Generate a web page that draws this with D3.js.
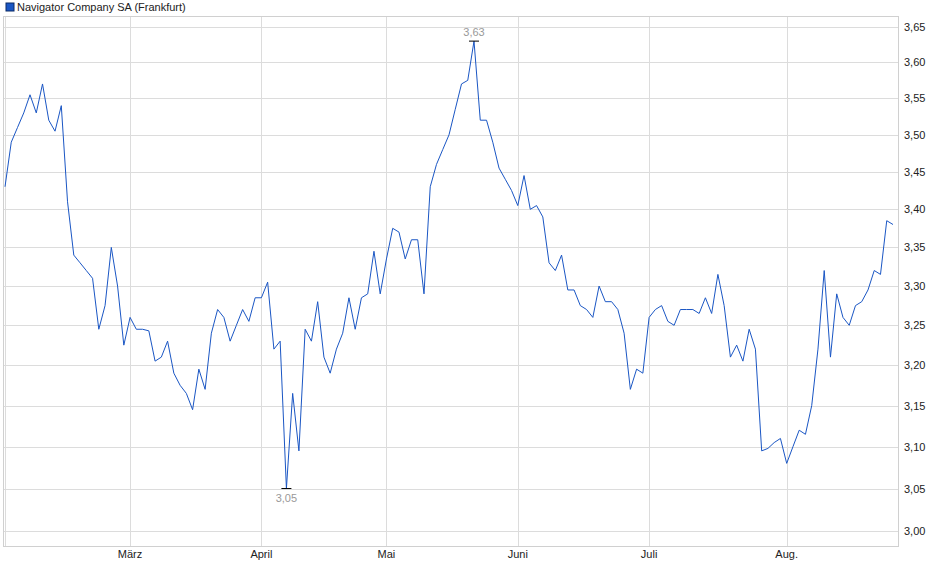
<!DOCTYPE html>
<html><head><meta charset="utf-8">
<script src="https://cdn.jsdelivr.net/npm/d3@7/dist/d3.min.js"></script>
<style>body{margin:0;background:#fff}text{font-family:"Liberation Sans",Arial,sans-serif}</style>
</head><body><svg id="c" width="940" height="579"></svg>
<script>
var prices = [
 3.43,3.49,3.51,3.53,3.555,3.53,3.57,3.52,3.505,3.54,3.41,3.34,3.33,3.32,3.31,3.245,3.275,3.35,3.30,3.225,3.26,
 3.245,3.245,3.243,3.205,3.21,3.23,3.19,3.175,3.165,3.145,3.195,3.17,3.24,3.27,3.26,3.23,3.25,3.27,3.255,3.285,3.285,3.305,
 3.22,3.23,3.05,3.165,3.095,3.245,3.23,3.28,3.21,3.19,3.22,3.24,3.285,3.245,3.285,3.29,3.345,3.29,3.335,3.375,
 3.37,3.335,3.36,3.36,3.29,3.43,3.46,3.48,3.50,3.535,3.57,3.575,3.63,3.52,3.52,3.49,3.455,3.44,3.425,3.405,3.445,
 3.40,3.405,3.39,3.33,3.32,3.34,3.295,3.295,3.275,3.27,3.26,3.30,3.28,3.28,3.27,3.24,3.17,3.195,3.19,3.26,3.27,
 3.275,3.255,3.25,3.27,3.27,3.27,3.265,3.285,3.265,3.315,3.275,3.21,3.225,3.205,3.245,3.22,3.095,3.098,3.105,3.11,3.08,
 3.10,3.12,3.115,3.15,3.22,3.32,3.21,3.29,3.26,3.25,3.275,3.28,3.295,3.32,3.315,3.385,3.38
];
var monthNames = ["März","April","Mai","Juni","Juli","Aug."];
var monthIdx = [20,41,61,82,103,125];
var yTicks = [3.00,3.05,3.10,3.15,3.20,3.25,3.30,3.35,3.40,3.45,3.50,3.55,3.60,3.65];
var title = "Navigator Company SA (Frankfurt)";

var svg = d3.select("#c");
var L = 3, R = 898, T = 16, B = 546;
var x = d3.scaleLinear().domain([0, prices.length-1]).range([5, 893]);
var y = d3.scaleLog().domain([3.00, 3.65]).range([531, 27]);
var fmt = function(v){ return d3.format(".2f")(v).replace(".", ","); };

svg.append("rect").attr("x",6).attr("y",3).attr("width",8).attr("height",8)
  .attr("fill","#1a56c4").attr("stroke","#0b2a66");
svg.append("text").attr("x",17).attr("y",11).attr("font-size",11).attr("fill","#222").text(title);

var g = svg.append("g");
g.selectAll(".h").data(yTicks).enter().append("line")
  .attr("x1",L).attr("x2",R).attr("y1",d=>Math.round(y(d))+0.5).attr("y2",d=>Math.round(y(d))+0.5)
  .attr("stroke","#dcdcdc");
g.selectAll(".v").data([0].concat(monthIdx)).enter().append("line")
  .attr("y1",T).attr("y2",B).attr("x1",d=>Math.round(x(d))+0.5).attr("x2",d=>Math.round(x(d))+0.5)
  .attr("stroke","#dcdcdc");
g.append("rect").attr("x",L+0.5).attr("y",T+0.5).attr("width",R-L).attr("height",B-T)
  .attr("fill","none").attr("stroke","#d0d0d0");

g.selectAll(".yl").data(yTicks).enter().append("text")
  .attr("x",904).attr("y",d=>y(d)+4).attr("font-size",11).attr("fill","#222").text(fmt);
g.selectAll(".xl").data(monthIdx).enter().append("text")
  .attr("x",d=>x(d)).attr("y",558).attr("text-anchor","middle").attr("font-size",11).attr("fill","#222")
  .text((d,i)=>monthNames[i]);

var line = d3.line().x((d,i)=>x(i)).y(d=>y(d));
g.append("path").attr("d",line(prices)).attr("fill","none").attr("stroke","#1a56c4").attr("stroke-width",1);

var iMax = d3.maxIndex(prices), iMin = d3.minIndex(prices);
[[iMax,-1],[iMin,1]].forEach(function(p){
  var px = x(p[0]), py = y(prices[p[0]]);
  g.append("line").attr("x1",px-5).attr("x2",px+5).attr("y1",py).attr("y2",py).attr("stroke","#000");
  g.append("text").attr("x",px).attr("y",p[1]<0?py-5:py+13).attr("text-anchor","middle")
    .attr("font-size",11).attr("fill","#999").text(fmt(prices[p[0]]));
});
</script></body></html>
